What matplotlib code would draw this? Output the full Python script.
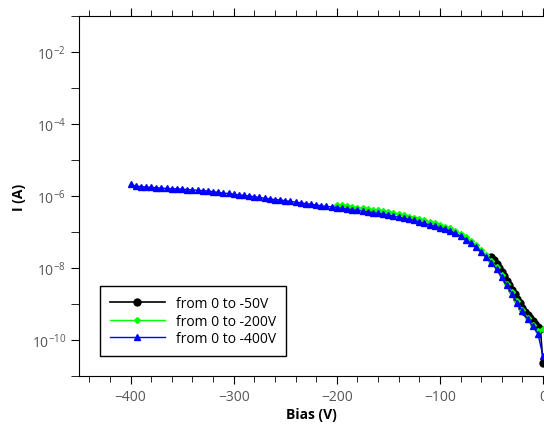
import numpy as np
import matplotlib
matplotlib.use("Agg")
import matplotlib.pyplot as plt
from matplotlib.ticker import FixedLocator, NullFormatter, LogFormatterMathtext, MultipleLocator

plt.rcParams["font.family"] = ["Open Sans", "DejaVu Sans"]

# sweep 0 to -400V (blue triangles) as log10(I)
bias_400 = [-400, -395, -390, -385, -380, -375, -370, -365, -360, -355,
            -350, -345, -340, -335, -330, -325, -320, -315, -310, -305,
            -300, -295, -290, -285, -280, -275, -270, -265, -260, -255,
            -250, -245, -240, -235, -230, -225, -220, -215, -210, -205,
            -200, -195, -190, -185, -180, -175, -170, -165, -160, -155,
            -150, -145, -140, -135, -130, -125, -120, -115, -110, -105,
            -100, -95, -90, -85, -80, -75, -70, -65, -60, -55,
            -50, -45, -40, -35, -30, -25, -20, -15, -10, -5, 0]
log_i_400 = [-5.68, -5.72, -5.74, -5.75, -5.76, -5.77, -5.78, -5.79, -5.80, -5.80,
             -5.81, -5.82, -5.83, -5.84, -5.85, -5.86, -5.88, -5.90, -5.92, -5.93,
             -5.95, -5.97, -5.98, -6.00, -6.02, -6.04, -6.06, -6.08, -6.10, -6.11,
             -6.13, -6.15, -6.17, -6.19, -6.21, -6.23, -6.25, -6.27, -6.29, -6.30,
             -6.32, -6.34, -6.36, -6.38, -6.40, -6.42, -6.44, -6.46, -6.48, -6.50,
             -6.53, -6.56, -6.59, -6.62, -6.65, -6.68, -6.72, -6.76, -6.80, -6.84,
             -6.88, -6.92, -6.97, -7.04, -7.12, -7.21, -7.31, -7.43, -7.56, -7.70,
             -7.85, -8.03, -8.25, -8.48, -8.72, -8.97, -9.20, -9.42, -9.62, -9.82, -10.45]

# sweep 0 to -200V (green diamonds)
bias_200 = [-200, -195, -190, -185, -180, -175, -170, -165, -160, -155,
            -150, -145, -140, -135, -130, -125, -120, -115, -110, -105,
            -100, -95, -90, -85, -80, -75, -70, -65, -60, -55,
            -50, -45, -40, -35, -30, -25, -20, -15, -10, -5, 0]
log_i_200 = [-6.24, -6.26, -6.28, -6.30, -6.32, -6.34, -6.36, -6.38, -6.40, -6.42,
             -6.45, -6.48, -6.51, -6.54, -6.57, -6.60, -6.64, -6.68, -6.72, -6.76,
             -6.80, -6.85, -6.90, -6.97, -7.05, -7.14, -7.25, -7.37, -7.50, -7.65,
             -7.80, -7.98, -8.20, -8.44, -8.68, -8.93, -9.16, -9.38, -9.58, -9.74, -9.70]

# sweep 0 to -50V (black circles)
bias_50 = [-50, -47.5, -45, -42.5, -40, -37.5, -35, -32.5, -30, -27.5,
           -25, -22.5, -20, -17.5, -15, -12.5, -10, -7.5, -5, -2.5, 0]
log_i_50 = [-7.70, -7.78, -7.88, -7.99, -8.10, -8.22, -8.35, -8.48, -8.60, -8.73,
            -8.86, -8.98, -9.10, -9.21, -9.31, -9.40, -9.48, -9.56, -9.63, -9.70, -10.65]

fig = plt.figure(figsize=(5.44, 4.31), dpi=100)
ax = fig.add_axes([79 / 544, 1 - 377 / 431, 464 / 544, 360 / 431])

ax.plot(bias_50, 10.0 ** np.array(log_i_50), color="black", marker="o", ms=5,
        lw=1.2, label="from 0 to -50V", zorder=2)
ax.plot(bias_200, 10.0 ** np.array(log_i_200), color="#00ff00", marker="D", ms=3,
        lw=1.0, label="from 0 to -200V", zorder=3)
ax.plot(bias_400, 10.0 ** np.array(log_i_400), color="#0000ff", marker="^", ms=4.5,
        lw=1.0, label="from 0 to -400V", zorder=4)

ax.set_yscale("log")
ax.set_xlim(-450, 0)
ax.set_ylim(1e-11, 1e-1)

ax.xaxis.set_major_locator(MultipleLocator(100))
ax.xaxis.set_minor_locator(MultipleLocator(20))
ax.yaxis.set_major_locator(FixedLocator([1e-10, 1e-8, 1e-6, 1e-4, 1e-2]))
ax.yaxis.set_major_formatter(LogFormatterMathtext())
ax.yaxis.set_minor_locator(FixedLocator([1e-11, 1e-9, 1e-7, 1e-5, 1e-3, 1e-1]))
ax.yaxis.set_minor_formatter(NullFormatter())

ax.tick_params(axis="x", which="both", direction="out", top=True, bottom=True)
ax.tick_params(axis="x", which="major", length=6)
ax.tick_params(axis="x", which="minor", length=4)
ax.tick_params(axis="y", which="major", direction="out", length=6)
ax.tick_params(axis="y", which="minor", direction="out", length=6)
ax.tick_params(labelsize=10, labelcolor="#555555")
ax.spines["right"].set_visible(False)

ax.set_xlabel("Bias (V)", fontsize=10, fontweight="bold", labelpad=2)
ax.set_ylabel("I (A)", fontsize=10, fontweight="bold", labelpad=4)

leg = ax.legend(loc="upper left", bbox_to_anchor=(0.045, 0.25), borderaxespad=0,
                fontsize=10, fancybox=False, edgecolor="black", framealpha=1,
                handlelength=4, borderpad=0.7, labelspacing=0.2)
leg.get_frame().set_linewidth(1.0)

fig.savefig("out.png", dpi=100)
